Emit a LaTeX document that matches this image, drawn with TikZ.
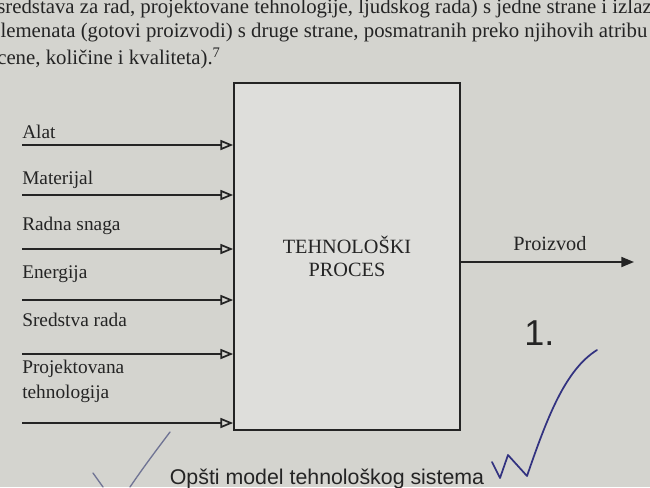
\documentclass[tikz,border=0pt]{standalone}
\usepackage{fontspec}
\setmainfont{Liberation Serif}
\newfontfamily\capfont{Liberation Sans}
\usetikzlibrary{arrows.meta}
\definecolor{paper}{RGB}{212,212,207}
\definecolor{boxfill}{RGB}{222,222,219}
\definecolor{ink}{RGB}{36,36,36}
\definecolor{pen}{RGB}{50,50,128}
\definecolor{pencil}{RGB}{112,116,148}
\begin{document}
\begin{tikzpicture}[x=0.75pt,y=-0.75pt,
  inarrow/.style={draw=ink, line width=1.3pt, -{Triangle[open,length=9.5pt,width=7.5pt]}},
  outarrow/.style={draw=ink, line width=1.3pt, -{Triangle[length=9.5pt,width=7.5pt]}},
  inlabel/.style={anchor=base west, inner sep=0pt, font=\fontsize{14.5}{17}\selectfont, text=ink},
  para/.style={anchor=base west, inner sep=0pt, font=\fontsize{15.6}{18}\selectfont, text=ink},
  procbox/.style={draw=ink, line width=1.3pt, fill=boxfill, minimum width=169.5pt, minimum height=260.25pt,
    align=center, font=\fontsize{15.2}{17.3}\selectfont, text=ink, inner sep=0pt},
  captext/.style={anchor=base, inner sep=0pt, font=\capfont\fontsize{16}{19}\selectfont, text=ink},
  handnum/.style={anchor=base west, inner sep=0pt, font=\capfont\fontsize{27}{30}\selectfont, text=ink},
  penline/.style={draw=pen, line width=1.3pt, line join=round, line cap=round},
  pencilline/.style={draw=pencil, line width=1pt, line join=round, line cap=round}
]
\useasboundingbox[fill=paper] (0,0) rectangle (650,487);
\clip (0,0) rectangle (650,487);

% paragraph text above the figure
\node[para] (t1) at (-3,13) {sredstava za rad, projektovane tehnologije, ljudskog rada) s jedne strane i izlazn};
\node[para] (t2) at (-9,37) {elemenata (gotovi proizvodi) s druge strane, posmatranih preko njihovih atribu};
\node[para] (t3) at (-3,64) {cene, količine i kvaliteta).\textsuperscript{7}};

% process box
\node[procbox] (proc) at (347,256.5) {TEHNOLOŠKI\\PROCES};

% inputs
\coordinate (s1) at (22,145);
\coordinate (s2) at (22,195);
\coordinate (s3) at (22,249);
\coordinate (s4) at (22,300);
\coordinate (s5) at (22,354);
\coordinate (s6) at (22,423);
\foreach \i in {1,...,6} {\draw[inarrow] (s\i) -- (s\i -| proc.west);}

\node[inlabel] (l1) at (22,138) {Alat};
\node[inlabel] (l2) at (22,184) {Materijal};
\node[inlabel] (l3) at (22,230) {Radna snaga};
\node[inlabel] (l4) at (22,278) {Energija};
\node[inlabel] (l5) at (22,326) {Sredstva rada};
\node[inlabel] (l6a) at (22,373) {Projektovana};
\node[inlabel] (l6b) at (22,398) {tehnologija};

% output
\coordinate (pz) at (634,262);
\draw[outarrow] (proc.east |- pz) -- (pz);
\node[inlabel, font=\fontsize{15.2}{17}\selectfont] (pl) at (513,250) {Proizvod};

% caption
\node[captext] (cap) at (327,484) {Opšti model tehnološkog sistema};

% handwritten marks
\node[handnum] (num) at (524,345) {1.};
\draw[penline] (492,462) -- (500,478) -- (508,455) -- (527,476) .. controls (547,418) and (565,370) .. (597,350);
\draw[pencilline] (93,473) -- (103,487);
\draw[pencilline] (130,487) .. controls (145,465) and (158,448) .. (170,432);
\end{tikzpicture}
\end{document}
